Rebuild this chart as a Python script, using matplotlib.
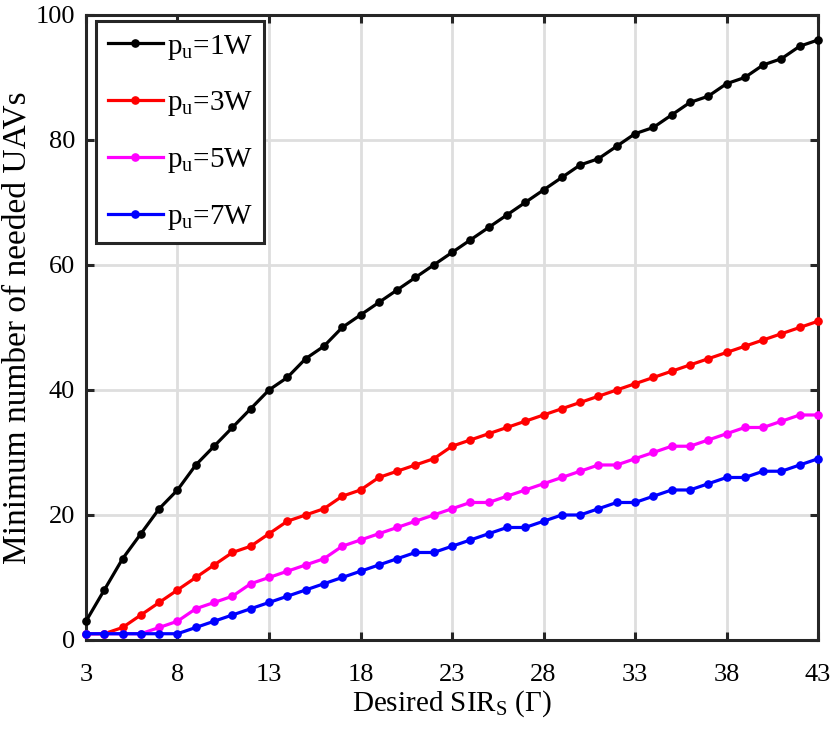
import matplotlib
matplotlib.use("Agg")
import matplotlib.pyplot as plt
import numpy as np

plt.rcParams['font.family'] = ['Liberation Serif', 'DejaVu Serif']
plt.rcParams['mathtext.fontset'] = 'custom'
plt.rcParams['mathtext.rm'] = 'Liberation Serif'
plt.rcParams['mathtext.it'] = 'Liberation Serif'

sir = list(range(3, 44))
p1 = [3, 8, 13, 17, 21, 24, 28, 31, 34, 37, 40, 42, 45, 47, 50, 52, 54, 56, 58, 60,
      62, 64, 66, 68, 70, 72, 74, 76, 77, 79, 81, 82, 84, 86, 87, 89, 90, 92, 93, 95, 96]
p3 = [1, 1, 2, 4, 6, 8, 10, 12, 14, 15, 17, 19, 20, 21, 23, 24, 26, 27, 28, 29,
      31, 32, 33, 34, 35, 36, 37, 38, 39, 40, 41, 42, 43, 44, 45, 46, 47, 48, 49, 50, 51]
p5 = [1, 1, 1, 1, 2, 3, 5, 6, 7, 9, 10, 11, 12, 13, 15, 16, 17, 18, 19, 20,
      21, 22, 22, 23, 24, 25, 26, 27, 28, 28, 29, 30, 31, 31, 32, 33, 34, 34, 35, 36, 36]
p7 = [1, 1, 1, 1, 1, 1, 2, 3, 4, 5, 6, 7, 8, 9, 10, 11, 12, 13, 14, 14,
      15, 16, 17, 18, 18, 19, 20, 20, 21, 22, 22, 23, 24, 24, 25, 26, 26, 27, 27, 28, 29]
labels = [r'p$_{\mathrm{u}}$=1W', r'p$_{\mathrm{u}}$=3W', r'p$_{\mathrm{u}}$=5W', r'p$_{\mathrm{u}}$=7W']
colors = ['#000000', '#ff0000', '#ff00ff', '#0000ff']
xticks = [3, 8, 13, 18, 23, 28, 33, 38, 43]
yticks = [0, 20, 40, 60, 80, 100]

fig = plt.figure(figsize=(8.3, 7.48), dpi=100)
ax = fig.add_axes([0.1036, 0.1444, 0.882, 0.8356])

for ys, c, lab in zip([p1, p3, p5, p7], colors, labels):
    ax.plot(sir, ys, color=c, lw=2.3, marker='o', ms=5.2, label=lab, clip_on=False, zorder=3)

ax.set_xlim(3, 43)
ax.set_ylim(0, 100)
ax.set_xticks(xticks)
ax.set_yticks(yticks)
ax.grid(True, color='#dedede', lw=2.0)
ax.set_axisbelow(True)
for s in ax.spines.values():
    s.set_linewidth(2.2)
    s.set_color('#262626')
ax.tick_params(direction='in', length=6, width=2.2, top=True, right=True,
               labelsize=19, color='#262626')
ax.tick_params(axis='x', pad=17)
ax.tick_params(axis='y', pad=8)
ax.set_xlabel(r'Desired SIR$_{\mathrm{S}}$ ($\Gamma$)', fontsize=21, labelpad=2)
ax.set_ylabel('Minimum number of needed UAVs', fontsize=24)
ax.yaxis.set_label_coords(-0.073, 0.5)

leg = ax.legend(loc='upper left', bbox_to_anchor=(0.0137, 0.9904), fontsize=21,
                frameon=True, fancybox=False, edgecolor='#262626', framealpha=1,
                borderpad=0.4, labelspacing=0.95, handlelength=1.9,
                handletextpad=0.12, borderaxespad=0.0)
leg.get_frame().set_linewidth(2.2)

fig.savefig('out.png', dpi=100)
